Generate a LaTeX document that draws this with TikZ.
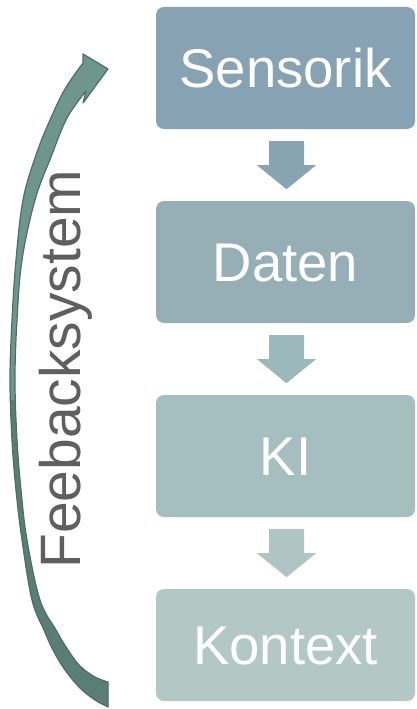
\documentclass[tikz,border=0pt]{standalone}
\usepackage{fontspec}
\setmainfont{Liberation Sans}
\usetikzlibrary{calc}

\definecolor{stageA}{HTML}{87A2B2}
\definecolor{stageB}{HTML}{96AFB6}
\definecolor{stageC}{HTML}{A5BEBF}
\definecolor{stageD}{HTML}{B3C8C5}
\definecolor{flowA}{HTML}{88A3B2}
\definecolor{flowB}{HTML}{9DB8BB}
\definecolor{flowC}{HTML}{B0C5C3}
\definecolor{loopLight}{HTML}{6F968C}
\definecolor{loopDark}{HTML}{5A7D74}
\definecolor{loopEdge}{HTML}{4E6E66}
\definecolor{labelGray}{HTML}{5F5F5F}

\tikzset{
  stage/.style={rounded corners=8pt, minimum width=259pt, minimum height=122pt,
    inner sep=0pt, text=white, font=\fontsize{54.5}{60}\selectfont,
    text height=38.5pt, text depth=0pt},
  looplabel/.style={rotate=90, anchor=base west, inner sep=0pt,
    text=labelGray, font=\fontsize{57}{62}\selectfont},
}

% block arrow hanging below a stage box
\newcommand{\flowarrow}[2]{%
  \fill[#2] ($(#1.south)+(1-17.5,12)$) -- ($(#1.south)+(1+17.5,12)$)
    -- ($(#1.south)+(1+17.5,36)$) -- ($(#1.south)+(1+29.5,36)$)
    -- ($(#1.south)+(1,60)$) -- ($(#1.south)+(1-29.5,36)$)
    -- ($(#1.south)+(1-17.5,36)$) -- cycle;}

% outline of the curved feedback arrow
\newcommand{\feedbackpath}{%
  plot[smooth,tension=0.6] coordinates {(108,707) (95,700) (80,688) (65,670)
    (53,650) (44,630) (32,600) (22,540) (16,490) (12,440) (10,380) (12,320)
    (16,260) (23,200) (36,155) (50,120) (65,89) (83,63)}
  -- (83,54) -- (108,69) -- (83,103) -- (86,91)
  -- plot[smooth,tension=0.6] coordinates {(86,91) (67,118) (51,157)
    (35,200) (22,260) (17,320) (15,380) (17,440) (21,490) (27,540) (40,600)
    (56,630) (68,650) (80,666) (95,677) (108,682)}
  -- cycle}

\begin{document}
\begin{tikzpicture}[x=1pt, y=-1pt]
  \useasboundingbox (0,0) rectangle (416,709);

  % process stages
  \node[stage, fill=stageA] (sens) at (285.5,68) {Sensorik};
  \node[stage, fill=stageB] (dat)  at (285.5,262) {Daten};
  \node[stage, fill=stageC] (ki)   at (285.5,456) {KI};
  \node[stage, fill=stageD, minimum height=112pt] (ktx) at (285.5,645) {Kontext};

  \flowarrow{sens}{flowA}
  \flowarrow{dat}{flowB}
  \flowarrow{ki}{flowC}

  % curved feedback arrow: light front band, darker back band below
  \fill[loopLight] \feedbackpath;
  \begin{scope}
    \clip (0,400) rectangle (130,709);
    \fill[loopDark] \feedbackpath;
  \end{scope}
  \draw[loopEdge, line width=1.2pt, line join=round] \feedbackpath;

  \node[looplabel] (fb) at (80,569) {Feebacksystem};
\end{tikzpicture}
\end{document}
